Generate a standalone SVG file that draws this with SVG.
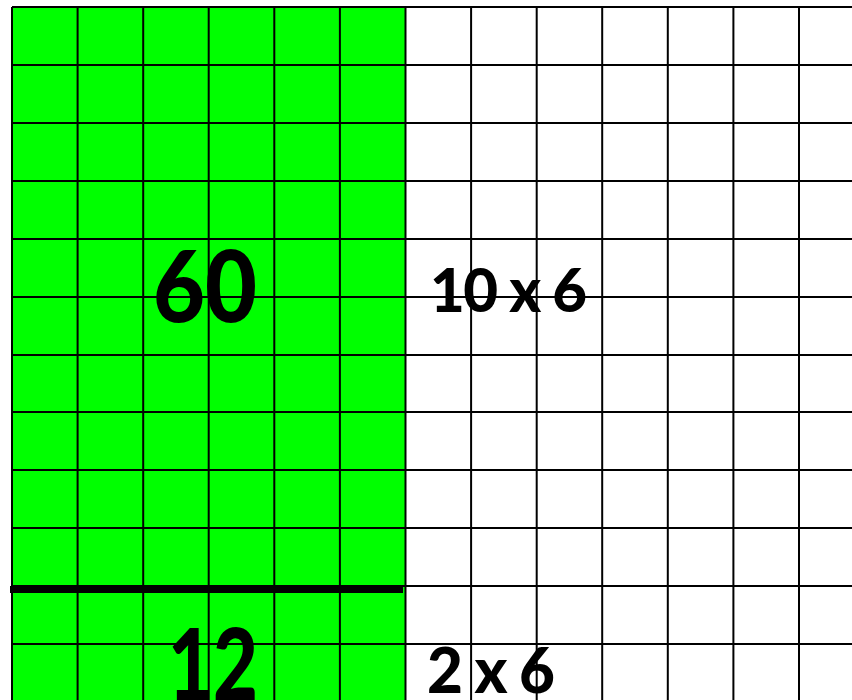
<svg xmlns="http://www.w3.org/2000/svg" width="852" height="700" viewBox="0 0 852 700">
<style>
.g{stroke:#000;stroke-width:2;fill:none}
.t{font-family:"Lato","Liberation Sans",sans-serif;font-weight:900;fill:#000}
</style>
<rect width="852" height="700" fill="#fff"/>
<rect id="green" x="12" y="7" width="394" height="693" fill="#00ff00"/>
<g id="grid" class="g">
<path d="M12 7V700M77.6 7V700M143.2 7V700M208.7 7V700M274.3 7V700M339.9 7V700M405.5 7V700M471.1 7V700M536.7 7V700M602.2 7V700M667.8 7V700M733.4 7V700M799 7V700"/>
<path d="M12 7H852M12 65H852M12 123H852M12 181H852M12 239H852M12 297H852M12 355H852M12 412H852M12 470H852M12 528H852M12 586H852M12 644H852"/>
</g>
<path id="divider" d="M10 589.5H403" stroke="#000" stroke-width="7"/>
<text class="t" x="153" y="322" font-size="100" textLength="104" lengthAdjust="spacingAndGlyphs">60</text>
<text class="t" x="168" y="700" font-size="100" textLength="90" lengthAdjust="spacingAndGlyphs">12</text>
<text class="t" x="430" y="312" font-size="60" textLength="157">10 x 6</text>
<text class="t" x="427" y="693" font-size="62" textLength="128">2 x 6</text>
</svg>
